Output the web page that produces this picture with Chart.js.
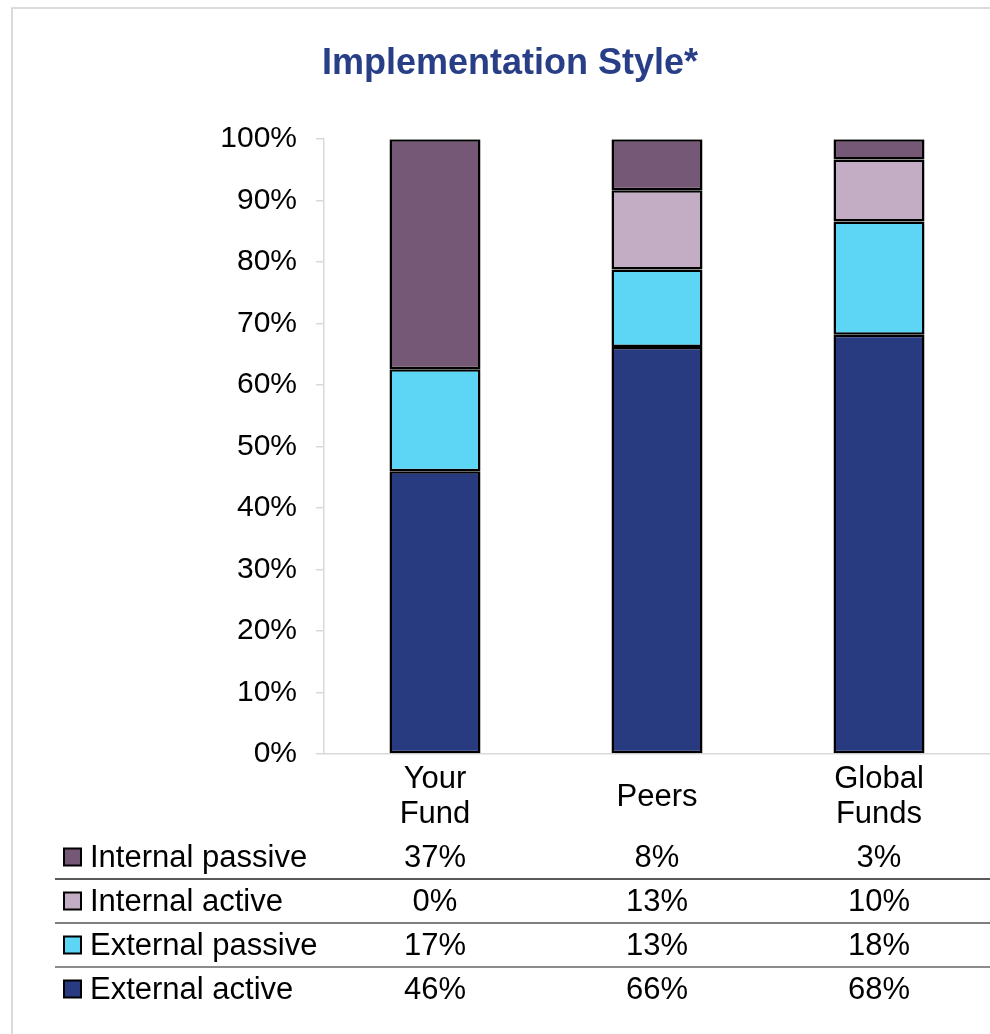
<!DOCTYPE html>
<html>
<head>
<meta charset="utf-8">
<script src="https://cdn.jsdelivr.net/npm/chart.js@4.4.1/dist/chart.umd.min.js"></script>
<style>
  body { margin: 0; background: #fff; }
  canvas { display: block; }
</style>
</head>
<body>
<canvas id="implementation_style" width="990" height="1034"></canvas>
<script>
var categories = [['Your', 'Fund'], ['Peers'], ['Global', 'Funds']];

// stack order, bottom to top
var externalActive  = [46.0, 66.2, 68.2];
var externalPassive = [16.6, 12.6, 18.4];
var internalActive  = [0.0, 12.9, 10.1];
var internalPassive = [37.4, 8.3, 3.3];

var yTicks = [0, 10, 20, 30, 40, 50, 60, 70, 80, 90, 100];

var FONT = '"Liberation Sans", Arial, sans-serif';

var series = [
  { label: 'External active',  data: externalActive,  color: '#283b81' },
  { label: 'External passive', data: externalPassive, color: '#5dd6f6' },
  { label: 'Internal active',  data: internalActive,  color: '#c3adc5' },
  { label: 'Internal passive', data: internalPassive, color: '#755876' }
];

// frame + white background
var framePlugin = {
  id: 'frame',
  beforeDraw: function(chart) {
    var ctx = chart.ctx;
    ctx.save();
    ctx.fillStyle = '#fff';
    ctx.fillRect(0, 0, chart.width, chart.height);
    ctx.strokeStyle = '#d0d0d0';
    ctx.lineWidth = 1.5;
    ctx.beginPath();
    ctx.moveTo(12, chart.height);
    ctx.lineTo(12, 8);
    ctx.lineTo(chart.width, 8);
    ctx.stroke();
    ctx.restore();
  }
};

// category labels (vertically centred) and the data table under the x axis
var tablePlugin = {
  id: 'dataTable',
  afterDraw: function(chart) {
    var ctx = chart.ctx;
    var x = chart.scales.x;
    var base = chart.chartArea.bottom;
    var lineH = 35;
    ctx.save();
    ctx.font = '31px ' + FONT;
    ctx.textBaseline = 'middle';
    ctx.textAlign = 'center';
    ctx.fillStyle = '#000';
    chart.data.labels.forEach(function(lbl, i) {
      var lines = [].concat(lbl);
      var top = base + 43 - (lines.length - 1) * lineH / 2;
      lines.forEach(function(t, k) {
        ctx.fillText(t, x.getPixelForValue(i), top + k * lineH);
      });
    });

    var rowH = 44;
    var firstRow = base + 103;
    var rows = chart.data.datasets.slice().reverse();
    var lineColors = ['#222', '#555', '#666'];
    rows.forEach(function(ds, r) {
      var cy = firstRow + r * rowH;
      ctx.fillStyle = ds.backgroundColor;
      ctx.fillRect(64, cy - 8.5, 17, 17);
      ctx.strokeStyle = '#000';
      ctx.lineWidth = 2;
      ctx.strokeRect(64, cy - 8.5, 17, 17);
      ctx.fillStyle = '#000';
      ctx.textAlign = 'left';
      ctx.fillText(ds.label, 90, cy + 1);
      ctx.textAlign = 'center';
      ds.data.forEach(function(v, i) {
        ctx.fillText(Math.round(v) + '%', x.getPixelForValue(i), cy + 1);
      });
      if (r < rows.length - 1) {
        ctx.strokeStyle = lineColors[r];
        ctx.lineWidth = 1.5;
        ctx.beginPath();
        ctx.moveTo(55, cy + rowH / 2);
        ctx.lineTo(chart.width, cy + rowH / 2);
        ctx.stroke();
      }
    });
    ctx.restore();
  }
};

var ctx = document.getElementById('implementation_style').getContext('2d');
var chart = new Chart(ctx, {
  type: 'bar',
  data: {
    labels: categories,
    datasets: series.map(function(s) {
      return {
        label: s.label,
        data: s.data,
        backgroundColor: s.color,
        borderColor: '#000',
        borderWidth: 2.5,
        borderSkipped: false,
        inflateAmount: 0,
        categoryPercentage: 1,
        barPercentage: 0.41
      };
    })
  },
  options: {
    responsive: false,
    animation: false,
    devicePixelRatio: 1,
    layout: { padding: { left: 30, right: 0, top: 0, bottom: 280 } },
    plugins: {
      legend: { display: false },
      tooltip: { enabled: false },
      title: {
        display: true,
        text: 'Implementation Style*',
        color: '#283f88',
        font: { family: FONT, size: 36, weight: 'bold' },
        padding: { top: 42, bottom: 54 }
      }
    },
    scales: {
      x: {
        stacked: true,
        grid: { display: false, drawTicks: false, tickLength: 0 },
        border: { display: true, color: '#d9d9d9', width: 1.5 },
        ticks: { display: false }
      },
      y: {
        stacked: true,
        min: 0,
        max: 100,
        afterBuildTicks: function(scale) {
          scale.ticks = yTicks.map(function(v) { return { value: v }; });
        },
        afterFit: function(scale) { scale.width = 294; },
        grid: { drawOnChartArea: false, drawTicks: true, tickLength: 8, color: '#d9d9d9', lineWidth: 1.5 },
        border: { display: true, color: '#d9d9d9', width: 1.5 },
        ticks: {
          color: '#000',
          font: { family: FONT, size: 30 },
          padding: 19,
          callback: function(v) { return v + '%'; }
        }
      }
    }
  },
  plugins: [framePlugin, tablePlugin]
});
</script>
</body>
</html>
